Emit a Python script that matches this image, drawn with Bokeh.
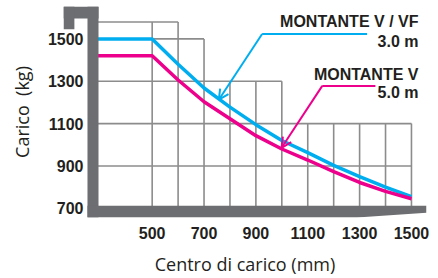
import numpy as np
from bokeh.plotting import figure
from bokeh.models import Range1d, FixedTicker, Arrow, OpenHead
from bokeh.core.properties import value
from bokeh.embed import file_html
from bokeh.resources import INLINE

# ---------------- data ----------------
centro_mm = [290, 500, 600, 700, 800, 900, 1000, 1100, 1200, 1300, 1400, 1500]
carico_vvf_3m = [1500, 1500, 1380, 1268, 1178, 1095, 1020, 963, 903, 850, 800, 755]
carico_v_5m = [1420, 1420, 1306, 1203, 1123, 1043, 980, 928, 873, 822, 780, 745]

x_ticks = [500, 700, 900, 1100, 1300, 1500]
y_ticks = [700, 900, 1100, 1300, 1500]

# stepped background grid
grid_cols = [500, 600, 700, 800, 900, 1000, 1100, 1200, 1300, 1400, 1500]
grid_col_top = [1580, 1580, 1500, 1300, 1300, 1300, 1100, 1100, 1100, 1100, 1100]
grid_rows = [1580, 1500, 1300, 1100, 900]
grid_row_end = [600, 700, 1000, 1500, 1500]

series_names = ["MONTANTE V / VF", "MONTANTE V"]
series_heights = ["3.0 m", "5.0 m"]

# ---------------- styling ----------------
CYAN = "#00aeef"
PINK = "#ec008c"
FRAME = "#6d6e71"
GRID = "#8c8c8c"
INK = "#231f20"

X0, X1 = 158, 1558
Y0, Y1 = 656.6, 1652.9

p = figure(width=438, height=278, output_backend="svg", toolbar_location=None,
           x_range=Range1d(X0, X1), y_range=Range1d(Y0, Y1),
           min_border_left=63, min_border_right=12, min_border_top=6, min_border_bottom=55)
p.outline_line_color = None
p.xgrid.visible = False
p.ygrid.visible = False
p.background_fill_color = "white"

# grid
p.segment(x0=grid_cols, y0=[690] * len(grid_cols), x1=grid_cols, y1=grid_col_top,
          line_color=GRID, line_width=1.6)
p.segment(x0=[260] * len(grid_rows), y0=grid_rows, x1=grid_row_end, y1=grid_rows,
          line_color=GRID, line_width=1.6)

# curves
p.line(centro_mm, carico_vvf_3m, line_color=CYAN, line_width=3.5)
p.line(centro_mm, carico_v_5m, line_color=PINK, line_width=3.5)

# gray L-shaped frame
p.quad(left=[250.5, X0, X0], right=[293, 293, 200], bottom=[Y0, 1596, 1546],
       top=[Y1, Y1, Y1], fill_color=FRAME, line_color=None)
p.patch([250.5, 1290, X1, X1, 250.5], [Y0, Y0, 679.5, 711.7, 711.7],
        fill_color=FRAME, line_color=None)

# labels with leader lines
label_x = 1527
p.text(x=[label_x] * 4, y=[1581, 1489, 1331, 1247],
       text=[series_names[0], series_heights[0], series_names[1], series_heights[1]],
       text_align="right", text_baseline="alphabetic", text_color=INK,
       text_font=value("Liberation Sans"), text_font_style="bold", text_font_size="16px")

cy_tip_x = 757
cy_tip_y = float(np.interp(cy_tip_x, centro_mm, carico_vvf_3m)) - 4
pk_tip_x = 999
pk_tip_y = float(np.interp(pk_tip_x, centro_mm, carico_v_5m)) + 5

p.segment(x0=[1329, 1361], y0=[1523, 1278], x1=[924, 1156], y1=[1523, 1278],
          line_color=[CYAN, PINK], line_width=2)
p.add_layout(Arrow(end=OpenHead(size=10, line_color=CYAN, line_width=2),
                   x_start=924, y_start=1523, x_end=cy_tip_x, y_end=cy_tip_y,
                   line_color=CYAN, line_width=2))
p.add_layout(Arrow(end=OpenHead(size=10, line_color=PINK, line_width=2),
                   x_start=1156, y_start=1278, x_end=pk_tip_x, y_end=pk_tip_y,
                   line_color=PINK, line_width=2))

# axes
for ax in (p.xaxis, p.yaxis):
    ax.axis_line_color = None
    ax.major_tick_line_color = None
    ax.minor_tick_line_color = None
    ax.major_tick_out = 0
    ax.major_tick_in = 0
    ax.major_label_text_font = "Liberation Sans"
    ax.major_label_text_font_style = "bold"
    ax.major_label_text_font_size = "16px"
    ax.major_label_text_color = INK
    ax.axis_label_text_font = "Open Sans"
    ax.axis_label_text_font_style = "normal"
    ax.axis_label_text_font_size = "18px"
    ax.axis_label_text_color = INK

p.xaxis.ticker = FixedTicker(ticks=x_ticks)
p.yaxis.ticker = FixedTicker(ticks=y_ticks)
p.xaxis.axis_label = "Centro di carico (mm)"
p.yaxis.axis_label = "Carico \u00a0(kg)"
p.yaxis.major_label_standoff = -20
p.xaxis.major_label_standoff = 9
p.yaxis.axis_label_standoff = 11
p.xaxis.axis_label_standoff = 10

open("out.html", "w").write(file_html(p, INLINE))
